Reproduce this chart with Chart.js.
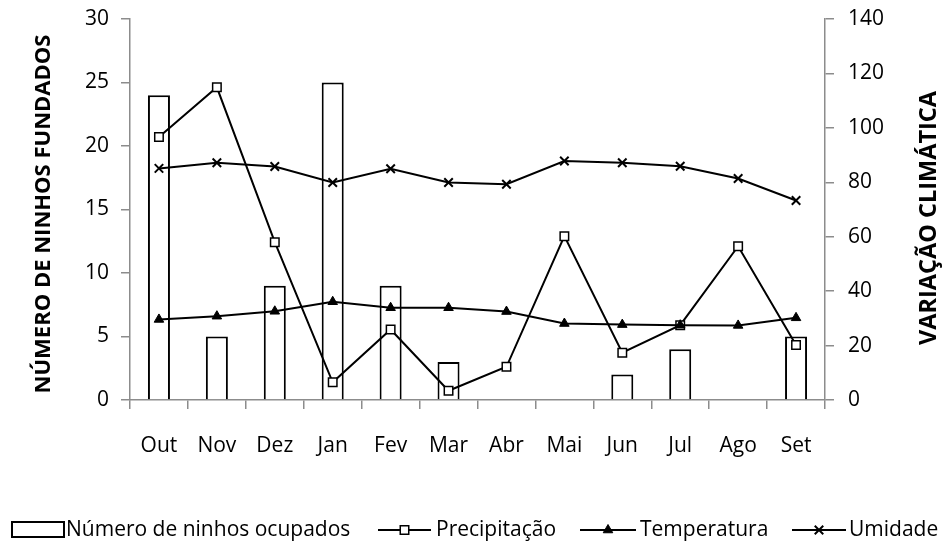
<!DOCTYPE html>
<html>
<head>
<meta charset="utf-8">
<script src="https://cdn.jsdelivr.net/npm/chart.js@4/dist/chart.umd.min.js"></script>
<style>
  html, body { margin: 0; padding: 0; background: #fff; }
  #wrap { position: relative; width: 942px; height: 543px; }
</style>
</head>
<body>
<div id="wrap"><canvas id="c" width="942" height="543"></canvas></div>
<script>
// Meses do ciclo (outubro a setembro)
const meses = ['Out', 'Nov', 'Dez', 'Jan', 'Fev', 'Mar', 'Abr', 'Mai', 'Jun', 'Jul', 'Ago', 'Set'];

// Número de ninhos ocupados (eixo esquerdo)
const ninhos = [24, 5, 9, 25, 9, 3, 0, 0, 2, 4, 0, 5];

// Variáveis climáticas (eixo direito)
const precipitacao = [96.6, 114.9, 58.0, 6.5, 25.9, 3.4, 12.2, 60.2, 17.4, 27.5, 56.5, 20.2];
const temperatura  = [29.6, 30.8, 32.6, 36.1, 33.9, 33.9, 32.5, 28.1, 27.7, 27.5, 27.4, 30.2];
const umidade      = [85.1, 87.2, 85.8, 79.9, 85.0, 79.9, 79.3, 87.8, 87.2, 85.9, 81.4, 73.3];

// Marcas dos eixos
const ticksEsquerda = { min: 0, max: 30, step: 5 };
const ticksDireita  = { min: 0, max: 140, step: 20 };

const FONT = '"Open Sans", "Liberation Sans", sans-serif';
const AXIS_GREY = '#8c8c8c';

// Larguras fixas dos eixos, sem folga extra para os rótulos das pontas
function fixa(largura, altura) {
  return function (s) {
    if (largura !== null) s.width = largura;
    if (altura !== null) s.height = altura;
    s.paddingTop = 0;
    s.paddingBottom = 0;
    s.paddingLeft = 0;
    s.paddingRight = 0;
  };
}

// Títulos dos eixos e legenda desenhados no próprio canvas
const extras = {
  id: 'extras',
  afterDraw(chart) {
    const ctx = chart.ctx;
    ctx.save();
    ctx.fillStyle = '#000';
    ctx.textAlign = 'center';
    ctx.textBaseline = 'middle';

    ctx.save();
    ctx.font = 'bold 22px ' + FONT;
    ctx.translate(44, 214);
    ctx.rotate(-Math.PI / 2);
    ctx.fillText('NÚMERO DE NINHOS FUNDADOS', 0, 0);
    ctx.restore();

    ctx.save();
    ctx.font = 'bold 23.5px ' + FONT;
    ctx.translate(929, 218);
    ctx.rotate(-Math.PI / 2);
    ctx.fillText('VARIAÇÃO CLIMÁTICA', 0, 0);
    ctx.restore();

    // Legenda
    const ly = 530;
    ctx.font = '21px ' + FONT;
    ctx.textAlign = 'left';
    ctx.textBaseline = 'middle';

    ctx.lineWidth = 2;
    ctx.strokeStyle = '#000';
    ctx.fillStyle = '#fff';
    ctx.fillRect(12, 522, 52, 15);
    ctx.strokeRect(12, 522, 52, 15);
    ctx.fillStyle = '#000';
    ctx.fillText('Número de ninhos ocupados', 66, ly);

    const itens = [
      { x0: 378, x1: 431, tx: 436, ds: 1, txt: 'Precipitação' },
      { x0: 580, x1: 636, tx: 640, ds: 2, txt: 'Temperatura' },
      { x0: 792, x1: 846, tx: 849, ds: 3, txt: 'Umidade' }
    ];
    itens.forEach(it => {
      const d = chart.data.datasets[it.ds];
      ctx.beginPath();
      ctx.lineWidth = 2;
      ctx.strokeStyle = '#000';
      ctx.moveTo(it.x0, ly);
      ctx.lineTo(it.x1, ly);
      ctx.stroke();
      ctx.fillStyle = d.pointBackgroundColor;
      ctx.strokeStyle = '#000';
      ctx.lineWidth = d.pointBorderWidth;
      Chart.helpers.drawPoint(ctx, {
        pointStyle: d.pointStyle,
        radius: d.pointRadius,
        borderWidth: d.pointBorderWidth,
        rotation: 0
      }, (it.x0 + it.x1) / 2, ly);
      ctx.fillStyle = '#000';
      ctx.fillText(it.txt, it.tx, ly);
    });
    ctx.restore();
  }
};

new Chart(document.getElementById('c'), {
  data: {
    labels: meses,
    datasets: [
      {
        type: 'bar',
        label: 'Número de ninhos ocupados',
        data: ninhos,
        yAxisID: 'y',
        backgroundColor: '#fff',
        borderColor: '#000',
        borderWidth: 2,
        borderSkipped: 'bottom',
        barPercentage: 0.38,
        categoryPercentage: 1,
        order: 10
      },
      {
        type: 'line',
        label: 'Precipitação',
        data: precipitacao,
        yAxisID: 'y1',
        borderColor: '#000',
        borderWidth: 2,
        tension: 0,
        pointStyle: 'rect',
        pointRadius: 6,
        pointBorderWidth: 1.5,
        pointBackgroundColor: '#fff',
        pointBorderColor: '#000',
        order: 3
      },
      {
        type: 'line',
        label: 'Temperatura',
        data: temperatura,
        yAxisID: 'y1',
        borderColor: '#000',
        borderWidth: 2,
        tension: 0,
        pointStyle: 'triangle',
        pointRadius: 5.5,
        pointBorderWidth: 1,
        pointBackgroundColor: '#000',
        pointBorderColor: '#000',
        order: 2
      },
      {
        type: 'line',
        label: 'Umidade',
        data: umidade,
        yAxisID: 'y1',
        borderColor: '#000',
        borderWidth: 2,
        tension: 0,
        pointStyle: 'crossRot',
        pointRadius: 6,
        pointBorderWidth: 2,
        pointBackgroundColor: '#000',
        pointBorderColor: '#000',
        order: 1
      }
    ]
  },
  options: {
    responsive: false,
    animation: false,
    layout: { padding: { top: 19, left: 0, right: 0, bottom: 0 } },
    plugins: {
      legend: { display: false },
      tooltip: { enabled: false }
    },
    scales: {
      x: {
        offset: true,
        grid: {
          offset: true,
          drawOnChartArea: false,
          drawTicks: true,
          tickLength: 9,
          color: AXIS_GREY,
          lineWidth: 1.5
        },
        border: { display: true, color: AXIS_GREY, width: 1.5 },
        ticks: {
          color: '#000',
          font: { family: FONT, size: 21 },
          padding: 24,
          maxRotation: 0,
          autoSkip: false
        },
        afterFit: fixa(null, 143)
      },
      y: {
        position: 'left',
        min: ticksEsquerda.min,
        max: ticksEsquerda.max,
        grid: {
          drawOnChartArea: false,
          drawTicks: true,
          tickLength: 9,
          color: AXIS_GREY,
          lineWidth: 1.5
        },
        border: { display: true, color: AXIS_GREY, width: 1.5 },
        ticks: {
          stepSize: ticksEsquerda.step,
          color: '#000',
          font: { family: FONT, size: 21 },
          padding: 12
        },
        afterFit: fixa(130, null)
      },
      y1: {
        position: 'right',
        min: ticksDireita.min,
        max: ticksDireita.max,
        grid: {
          drawOnChartArea: false,
          drawTicks: true,
          tickLength: 9,
          color: AXIS_GREY,
          lineWidth: 1.5
        },
        border: { display: true, color: AXIS_GREY, width: 1.5 },
        ticks: {
          stepSize: ticksDireita.step,
          color: '#000',
          font: { family: FONT, size: 21 },
          padding: 14
        },
        afterFit: fixa(117, null)
      }
    }
  },
  plugins: [extras]
});
</script>
</body>
</html>
